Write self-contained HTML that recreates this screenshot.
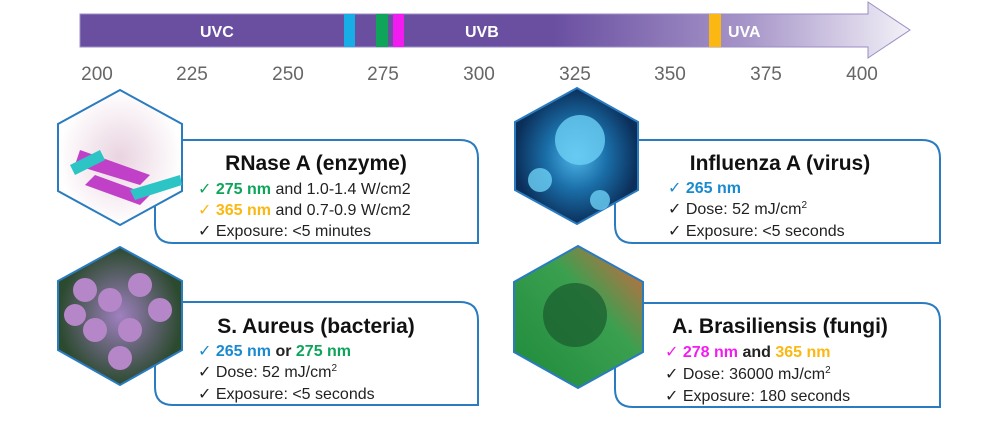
<!DOCTYPE html>
<html><head><meta charset="utf-8"><style>
body{margin:0;background:#fff;width:989px;height:439px;overflow:hidden;font-family:"Liberation Sans",sans-serif}
</style></head><body>
<svg width="989" height="439" xmlns="http://www.w3.org/2000/svg" font-family="Liberation Sans, DejaVu Sans, sans-serif">
<defs>
<linearGradient id="bar" x1="0" x2="1">
<stop offset="0" stop-color="#6a4fa1"/><stop offset="0.57" stop-color="#6a4fa1"/>
<stop offset="0.8" stop-color="#a594c8"/><stop offset="1" stop-color="#f3f1f8"/></linearGradient>
<radialGradient id="g1"><stop offset="0" stop-color="#e9d3e0"/><stop offset="1" stop-color="#fff"/></radialGradient>
<radialGradient id="g2"><stop offset="0" stop-color="#4fb6e8"/><stop offset="0.5" stop-color="#1a6ea8"/><stop offset="1" stop-color="#0b2f5a"/></radialGradient>
<radialGradient id="g3"><stop offset="0" stop-color="#a080c0"/><stop offset="1" stop-color="#2b4a2e"/></radialGradient>
<linearGradient id="g4" x1="0" y1="1" x2="1" y2="0"><stop offset="0" stop-color="#1d8a3a"/><stop offset="0.6" stop-color="#3aa050"/><stop offset="1" stop-color="#e0603e"/></linearGradient>
</defs>
<path d="M80 14 H868 V2 L910 30 L868 58 V47 H80 Z" fill="url(#bar)" stroke="#9a8cc4" stroke-width="1"/>
<rect x="344" y="14" width="11" height="33" fill="#17aee8"/>
<rect x="376" y="14" width="12" height="33" fill="#0ea45a"/>
<rect x="393" y="14" width="11" height="33" fill="#f31cf0"/>
<rect x="709" y="14" width="12" height="33" fill="#fbb812"/>
<g fill="#fff" font-size="16" font-weight="bold"><text x="200" y="37">UVC</text><text x="465" y="37">UVB</text><text x="728" y="37">UVA</text></g>
<g fill="#666" font-size="19" text-anchor="middle">
<text x="97" y="80">200</text><text x="192" y="80">225</text><text x="288" y="80">250</text><text x="383" y="80">275</text><text x="479" y="80">300</text><text x="575" y="80">325</text><text x="670" y="80">350</text><text x="766" y="80">375</text><text x="862" y="80">400</text></g>
<g fill="#fff" stroke="#2a7bbf" stroke-width="2">
<path d="M155 140 H460 Q478 140 478 158 V243 H173 Q155 243 155 225 Z"/>
<path d="M615 140 H922 Q940 140 940 158 V243 H633 Q615 243 615 225 Z"/>
<path d="M155 302 H460 Q478 302 478 320 V405 H173 Q155 405 155 387 Z"/>
<path d="M615 303 H922 Q940 303 940 321 V407 H633 Q615 407 615 389 Z"/>
</g>
<g stroke="#2a7bbf" stroke-width="2">
<polygon points="120,90 182,124 182,191 120,225 58,191 58,124" fill="url(#g1)"/>
<polygon points="577,88 638,122 638,190 577,224 515,190 515,122" fill="url(#g2)"/>
<polygon points="120,247 182,281 182,350 120,385 58,350 58,281" fill="url(#g3)"/>
<polygon points="578,246 643,282 643,352 578,388 514,352 514,282" fill="url(#g4)"/>
</g>
<g fill="#c040c8"><path d="M80 150 L150 175 L140 185 L75 165Z"/><path d="M95 175 L150 195 L140 205 L85 185Z"/></g>
<g fill="#2cc4c4"><path d="M70 165 L100 150 L105 160 L75 175Z"/><path d="M130 190 L180 175 L182 185 L135 200Z"/></g>
<g fill="#b687c8"><circle cx="85" cy="290" r="12"/><circle cx="110" cy="300" r="12"/><circle cx="140" cy="285" r="12"/><circle cx="160" cy="310" r="12"/><circle cx="95" cy="330" r="12"/><circle cx="130" cy="330" r="12"/><circle cx="75" cy="315" r="11"/><circle cx="120" cy="358" r="12"/></g>
<g fill="#6cd0f5" opacity="0.8"><circle cx="580" cy="140" r="25"/><circle cx="540" cy="180" r="12"/><circle cx="600" cy="200" r="10"/></g>
<circle cx="575" cy="315" r="32" fill="#1a5a2e" opacity="0.7"/>
<g fill="#111">
<text x="316" y="170" font-size="21" font-weight="bold" text-anchor="middle">RNase A (enzyme)</text>
<text x="780" y="170" font-size="21" font-weight="bold" text-anchor="middle">Influenza A (virus)</text>
<text x="316" y="333" font-size="21" font-weight="bold" text-anchor="middle">S. Aureus (bacteria)</text>
<text x="780" y="333" font-size="21" font-weight="bold" text-anchor="middle">A. Brasiliensis (fungi)</text>
</g>
<g font-size="16" fill="#222">
<text x="198" y="194"><tspan fill="#0ea45a">✓ </tspan><tspan fill="#0ea45a" font-weight="bold">275 nm</tspan> and 1.0-1.4 W/cm2</text>
<text x="198" y="215"><tspan fill="#fbb812">✓ </tspan><tspan fill="#fbb812" font-weight="bold">365 nm</tspan> and 0.7-0.9 W/cm2</text>
<text x="198" y="236">✓ Exposure: &lt;5 minutes</text>
<text x="668" y="193"><tspan fill="#1a8ad0">✓ </tspan><tspan fill="#1a8ad0" font-weight="bold">265 nm</tspan></text>
<text x="668" y="214">✓ Dose: 52 mJ/cm<tspan font-size="10" dy="-6">2</tspan></text>
<text x="668" y="236">✓ Exposure: &lt;5 seconds</text>
<text x="198" y="356"><tspan fill="#1a8ad0">✓ </tspan><tspan fill="#1a8ad0" font-weight="bold">265 nm</tspan><tspan font-weight="bold"> or </tspan><tspan fill="#0ea45a" font-weight="bold">275 nm</tspan></text>
<text x="198" y="377">✓ Dose: 52 mJ/cm<tspan font-size="10" dy="-6">2</tspan></text>
<text x="198" y="399">✓ Exposure: &lt;5 seconds</text>
<text x="665" y="357"><tspan fill="#f31cf0">✓ </tspan><tspan fill="#f31cf0" font-weight="bold">278 nm</tspan><tspan font-weight="bold"> and </tspan><tspan fill="#fbb812" font-weight="bold">365 nm</tspan></text>
<text x="665" y="379">✓ Dose: 36000 mJ/cm<tspan font-size="10" dy="-6">2</tspan></text>
<text x="665" y="401">✓ Exposure: 180 seconds</text>
</g>
</svg>
</body></html>
